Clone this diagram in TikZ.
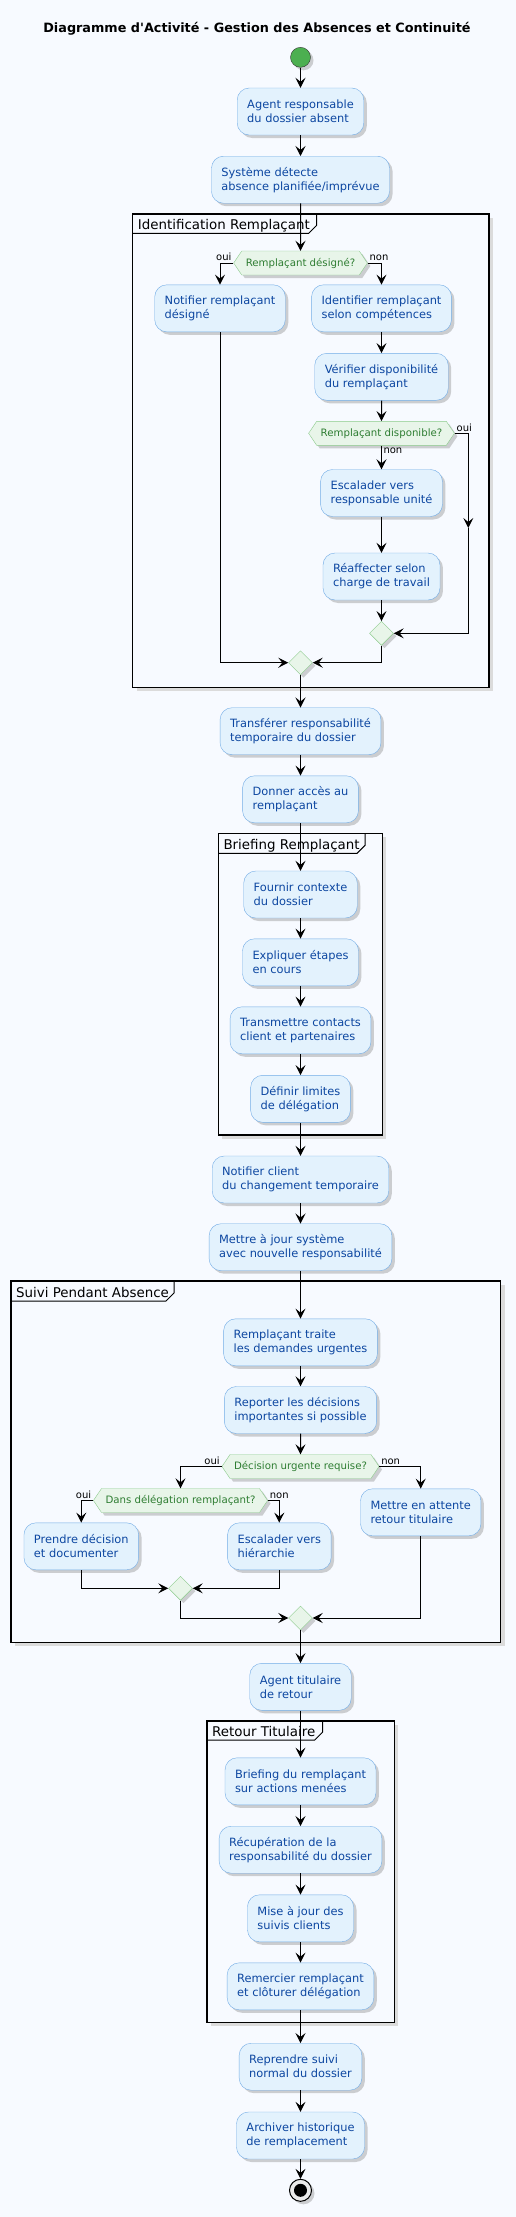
\documentclass[tikz,border=0pt]{standalone}
\usepackage{fontspec}
\setmainfont{DejaVu Sans}
\usetikzlibrary{arrows.meta,shapes.geometric,shapes.symbols,shadows}

\definecolor{fond}{HTML}{F7FAFF}
\definecolor{boitefond}{HTML}{E3F2FD}
\definecolor{boitebord}{HTML}{72ACE6}
\definecolor{boitetexte}{HTML}{0D47A1}
\definecolor{choixfond}{HTML}{E8F5E9}
\definecolor{choixbord}{HTML}{8CCB8C}
\definecolor{choixtexte}{HTML}{2E7D32}
\definecolor{vertdebut}{HTML}{4CAF50}

\tikzset{
  ombre/.style={drop shadow={shadow xshift=3pt, shadow yshift=-3pt, opacity=0.3, fill=black!60}},
  action/.style={rectangle, rounded corners=12pt, draw=boitebord, fill=boitefond, text=boitetexte,
    font=\fontsize{11.4}{14}\selectfont, align=left, inner xsep=10pt, minimum height=47pt, ombre},
  choix/.style={signal, signal to=west and east, signal pointer angle=112, draw=choixbord, fill=choixfond,
    text=choixtexte, font=\fontsize{10.2}{12}\selectfont, minimum height=24pt, inner xsep=4pt, inner ysep=1pt, ombre},
  fusion/.style={diamond, draw=choixbord, fill=choixfond, minimum size=24pt, inner sep=0pt, ombre},
  flot/.style={draw=black, line width=1pt, -{Stealth[length=10pt,width=10pt,inset=4pt]}},
  etiq/.style={font=\fontsize{10}{12}\selectfont, text=black, inner sep=1.5pt},
  cadre/.style={draw=black, line width=1.5pt},
  titrecadre/.style={font=\fontsize{13.4}{16}\selectfont, text=black, inner sep=0pt},
}

% cadre de partition : x1, y1, x2, y2, bord de l'onglet, bas de l'onglet, titre
\newcommand{\cadrepartition}[7]{%
  \fill[black!14] (#1+4,#2+4) rectangle (#3+4,#4+4);
  \filldraw[fill=fond, cadre] (#1,#2) rectangle (#3,#4);
  \draw[line width=1pt] (#1,#6) -- (#5-8,#6) -- (#5,#6-8) -- (#5,#2);
  \node[titrecadre, anchor=base west] at (#1+5,#6-4) {#7};
}

\begin{document}
\begin{tikzpicture}[x=1pt, y=-1pt]
    \path[use as bounding box, fill=fond] (0,0) rectangle (516,2217);

    % Titre
    \node[font=\bfseries\fontsize{12.8}{15}\selectfont] (titre) at (257,29)
        {Diagramme d\textquotesingle Activité - Gestion des Absences et Continuité};

    % Partitions
    \cadrepartition{132.7}{214}{489}{687.3}{316.7}{233.3}{Identification Remplaçant}
    \cadrepartition{218.3}{833.3}{382.3}{1135}{365}{853.3}{Briefing Remplaçant}
    \cadrepartition{11}{1281}{500.7}{1642.3}{174}{1301}{Suivi Pendant Absence}
    \cadrepartition{207}{1721}{394.3}{2022.3}{322.7}{1740}{Retour Titulaire}

    % Début et absence
    \node[circle, minimum size=20pt, inner sep=0pt, fill=vertdebut, draw=black!80, ombre] (debut) at (300.5,57.3) {};
    \node[action] (a1) at (300.5,111.5) {Agent responsable\\du dossier absent};
    \node[action] (a2) at (300.5,179.7) {Système détecte\\absence planifiée/imprévue};

    % Identification du remplaçant
    \node[choix] (d1) at (300.5,263) {Remplaçant désigné?};
    \node[action] (a3) at (220,308.3) {Notifier remplaçant\\désigné};
    \node[action] (a4) at (381.5,308.3) {Identifier remplaçant\\selon compétences};
    \node[action] (a5) at (381.5,376.8) {Vérifier disponibilité\\du remplaçant};
    \node[choix] (d2) at (381.5,433.3) {Remplaçant disponible?};
    \node[action] (a6) at (381.5,493) {Escalader vers\\responsable unité};
    \node[action] (a7) at (381.5,576.5) {Réaffecter selon\\charge de travail};
    \node[fusion] (m2) at (381.5,633.3) {};
    \node[fusion] (m1) at (300.5,662.7) {};
    \coordinate (r1) at (468.3,528);

    % Transfert et briefing
    \node[action] (a8) at (300.5,731.2) {Transférer responsabilité\\temporaire du dossier};
    \node[action] (a9) at (300.5,799.3) {Donner accès au\\remplaçant};
    \node[action] (a10) at (300.5,894.5) {Fournir contexte\\du dossier};
    \node[action] (a11) at (300.5,962.3) {Expliquer étapes\\en cours};
    \node[action] (a12) at (300.5,1030.3) {Transmettre contacts\\client et partenaires};
    \node[action] (a13) at (300.5,1098.8) {Définir limites\\de délégation};
    \node[action] (a14) at (300.5,1179.5) {Notifier client\\du changement temporaire};
    \node[action] (a15) at (300.5,1247.2) {Mettre à jour système\\avec nouvelle responsabilité};

    % Suivi pendant l'absence
    \node[action] (a16) at (300.5,1342.3) {Remplaçant traite\\les demandes urgentes};
    \node[action] (a17) at (300.5,1410) {Reporter les décisions\\importantes si possible};
    \node[choix] (d3) at (300.5,1466.5) {Décision urgente requise?};
    \node[choix] (d4) at (180.5,1500.5) {Dans délégation remplaçant?};
    \node[action] (a18) at (81.3,1546.3) {Prendre décision\\et documenter};
    \node[action] (a19) at (279.3,1546.3) {Escalader vers\\hiérarchie};
    \node[action] (a20) at (420.7,1512.3) {Mettre en attente\\retour titulaire};
    \node[fusion] (m3) at (180.5,1588.3) {};
    \node[fusion] (m4) at (300.5,1618) {};

    % Retour du titulaire
    \node[action] (a21) at (300.5,1686.8) {Agent titulaire\\de retour};
    \node[action] (a22) at (300.5,1781.3) {Briefing du remplaçant\\sur actions menées};
    \node[action] (a23) at (300.5,1849.7) {Récupération de la\\responsabilité du dossier};
    \node[action] (a24) at (300.5,1918.3) {Mise à jour des\\suivis clients};
    \node[action] (a25) at (300.5,1986.3) {Remercier remplaçant\\et clôturer délégation};
    \node[action] (a26) at (300.5,2066.7) {Reprendre suivi\\normal du dossier};
    \node[action] (a27) at (300.5,2135.5) {Archiver historique\\de remplacement};
    \node[circle, minimum size=22pt, inner sep=0pt, fill=black!8, draw=black, line width=1pt, ombre] (fin) at (300.5,2190.3) {};
    \fill[black] (fin.center) circle (6.5);

    % Flux directs
    \foreach \a/\b in {debut/a1, a1/a2, a2/d1, a4/a5, a5/d2, a6/a7, a7/m2, m1/a8, a8/a9, a9/a10,
        a10/a11, a11/a12, a12/a13, a13/a14, a14/a15, a15/a16, a16/a17, a17/d3, m4/a21, a21/a22,
        a22/a23, a23/a24, a24/a25, a25/a26, a26/a27, a27/fin}
        \draw[flot] (\a) -- (\b);

    % Branches
    \draw[flot] (d1.west) node[etiq, anchor=south east] {oui} -| (a3.north);
    \draw[flot] (d1.east) node[etiq, anchor=south west] {non} -| (a4.north);
    \draw[flot] (d2.south) node[etiq, anchor=north west] {non} -- (a6.north);
    \draw[flot] (d2.east) node[etiq, anchor=south west] {oui} -| (r1);
    \draw[flot] (r1) |- (m2.east);
    \draw[flot] (a3.south) |- (m1.west);
    \draw[flot] (m2.south) |- (m1.east);
    \draw[flot] (d3.west) node[etiq, anchor=south east] {oui} -| (d4.north);
    \draw[flot] (d3.east) node[etiq, anchor=south west] {non} -| (a20.north);
    \draw[flot] (d4.west) node[etiq, anchor=south east] {oui} -| (a18.north);
    \draw[flot] (d4.east) node[etiq, anchor=south west] {non} -| (a19.north);
    \draw[flot] (a18.south) |- (m3.west);
    \draw[flot] (a19.south) |- (m3.east);
    \draw[flot] (m3.south) |- (m4.west);
    \draw[flot] (a20.south) |- (m4.east);
\end{tikzpicture}
\end{document}
